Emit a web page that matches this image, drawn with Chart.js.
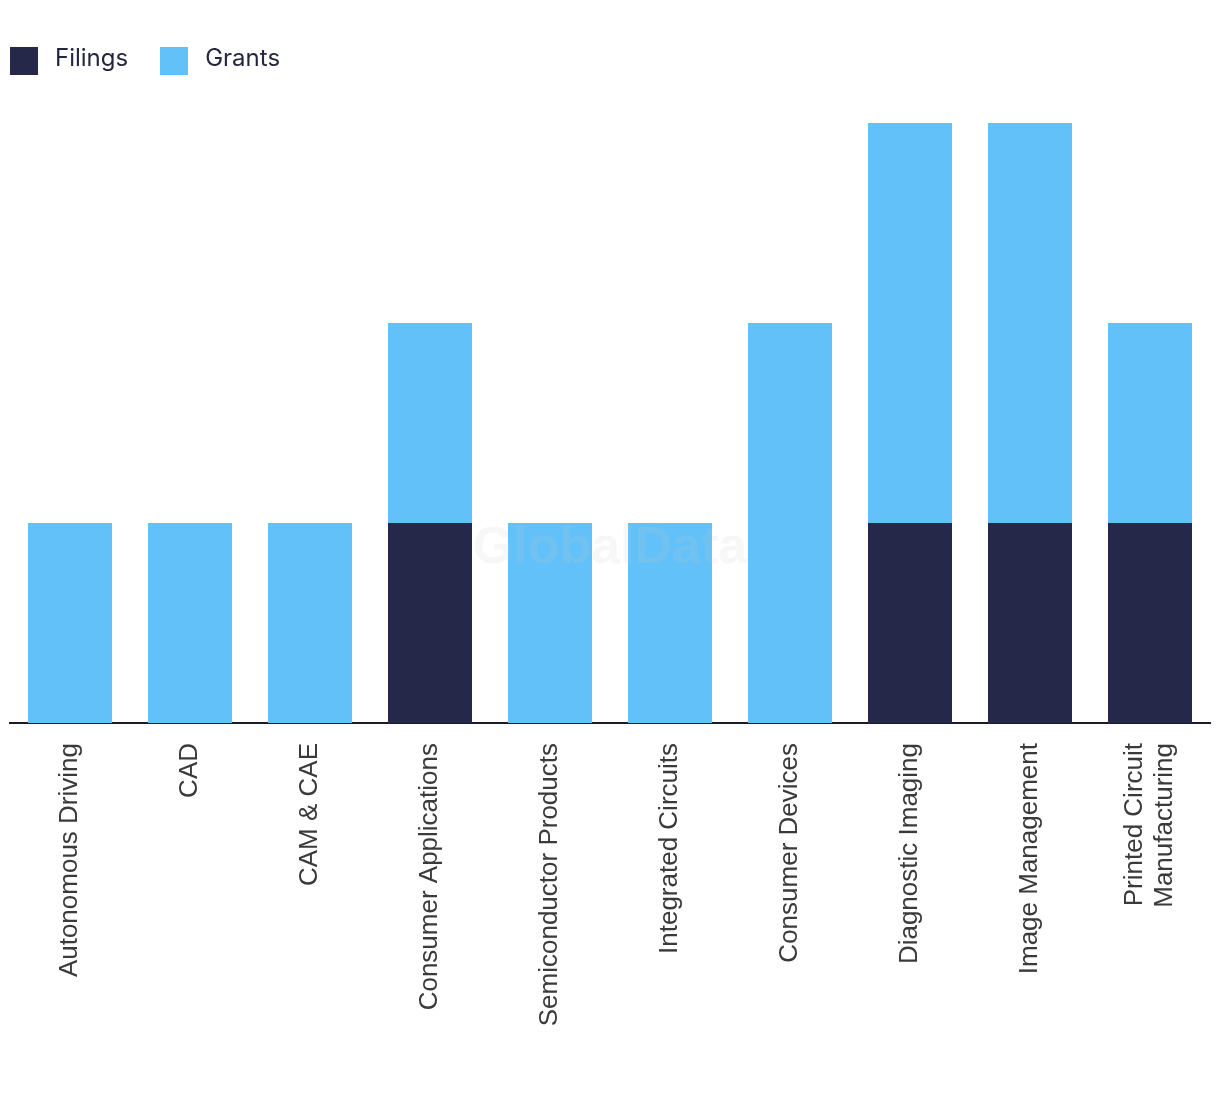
<!DOCTYPE html>
<html>
<head>
<meta charset="utf-8">
<script src="https://cdn.jsdelivr.net/npm/chart.js@4/dist/chart.umd.min.js"></script>
<style>
  html, body { margin: 0; padding: 0; background: #ffffff; }
  #wrap { position: relative; width: 1220px; height: 1094px; }
  #legend { position: absolute; left: 10px; top: 46px; display: flex; align-items: center; font-family: Inter, "Noto Sans", sans-serif; font-size: 24px; color: #24263f; }
  .item { display: flex; align-items: center; margin-right: 32px; }
  .item span { position: relative; top: -3px; }
  .box { width: 28px; height: 28px; margin-right: 17px; }
</style>
</head>
<body>
<div id="wrap">
  <canvas id="c" width="1220" height="1094"></canvas>
  <div id="legend"></div>
</div>
<script>
const categories = [
  "Autonomous Driving", "CAD", "CAM & CAE", "Consumer Applications",
  "Semiconductor Products", "Integrated Circuits", "Consumer Devices",
  "Diagnostic Imaging", "Image Management", ["Printed Circuit", "Manufacturing"]
];
const filings = [0, 0, 0, 1, 0, 0, 0, 1, 1, 1];
const grants  = [1, 1, 1, 1, 1, 1, 2, 2, 2, 1];
const seriesNames = ["Filings", "Grants"];
const seriesColors = ["#26284a", "#62c1f8"];

const legendEl = document.getElementById('legend');
seriesNames.forEach((n, i) => {
  const it = document.createElement('div'); it.className = 'item';
  const b = document.createElement('div'); b.className = 'box'; b.style.background = seriesColors[i];
  const t = document.createElement('span'); t.textContent = n;
  it.appendChild(b); it.appendChild(t); legendEl.appendChild(it);
});

const watermark = {
  id: 'watermark',
  afterDatasetsDraw(chart) {
    const ctx = chart.ctx, a = chart.chartArea;
    ctx.save();
    ctx.font = 'bold 52px "Liberation Sans", Arial, sans-serif';
    ctx.fillStyle = 'rgba(200,200,200,0.15)';
    ctx.textAlign = 'center';
    ctx.textBaseline = 'middle';
    ctx.fillText('GlobalData', (a.left + a.right) / 2, a.top + (a.bottom - a.top) * 0.71);
    ctx.restore();
  }
};

// center multi-line rotated tick labels on their tick
const centerMultiline = {
  id: 'centerMultiline',
  beforeDraw(chart) {
    const scale = chart.scales.x;
    const items = scale.getLabelItems(chart.chartArea);
    items.forEach(it => {
      if (Array.isArray(it.label) && it.label.length > 1 && !it._centered) {
        it.textOffset -= (it.label.length - 1) * it.font.lineHeight / 2;
        it._centered = true;
      }
    });
  }
};

new Chart(document.getElementById('c'), {
  type: 'bar',
  data: {
    labels: categories,
    datasets: [
      { label: seriesNames[0], data: filings, backgroundColor: seriesColors[0], borderWidth: 0 },
      { label: seriesNames[1], data: grants, backgroundColor: seriesColors[1], borderWidth: 0 }
    ]
  },
  options: {
    responsive: false,
    animation: false,
    devicePixelRatio: 1,
    layout: { padding: { left: 10, right: 10, top: 123, bottom: 0 } },
    plugins: { legend: { display: false }, tooltip: { enabled: false } },
    datasets: { bar: { categoryPercentage: 1, barPercentage: 0.7 } },
    scales: {
      x: {
        stacked: true,
        grid: { display: false, drawTicks: false },
        border: { display: true, color: '#1b1c30', width: 2 },
        ticks: {
          maxRotation: 90, minRotation: 90, padding: 20,
          color: '#3a3a3a',
          font: { family: '"Liberation Sans", Arial, sans-serif', size: 26, lineHeight: 1.15 }
        },
        afterFit(scale) {
          scale.height = 1094 - 723;
          scale.paddingLeft = 0;
          scale.paddingRight = 0;
        }
      },
      y: {
        stacked: true, display: false, min: 0, max: 3
      }
    }
  },
  plugins: [watermark, centerMultiline]
});
</script>
</body>
</html>
